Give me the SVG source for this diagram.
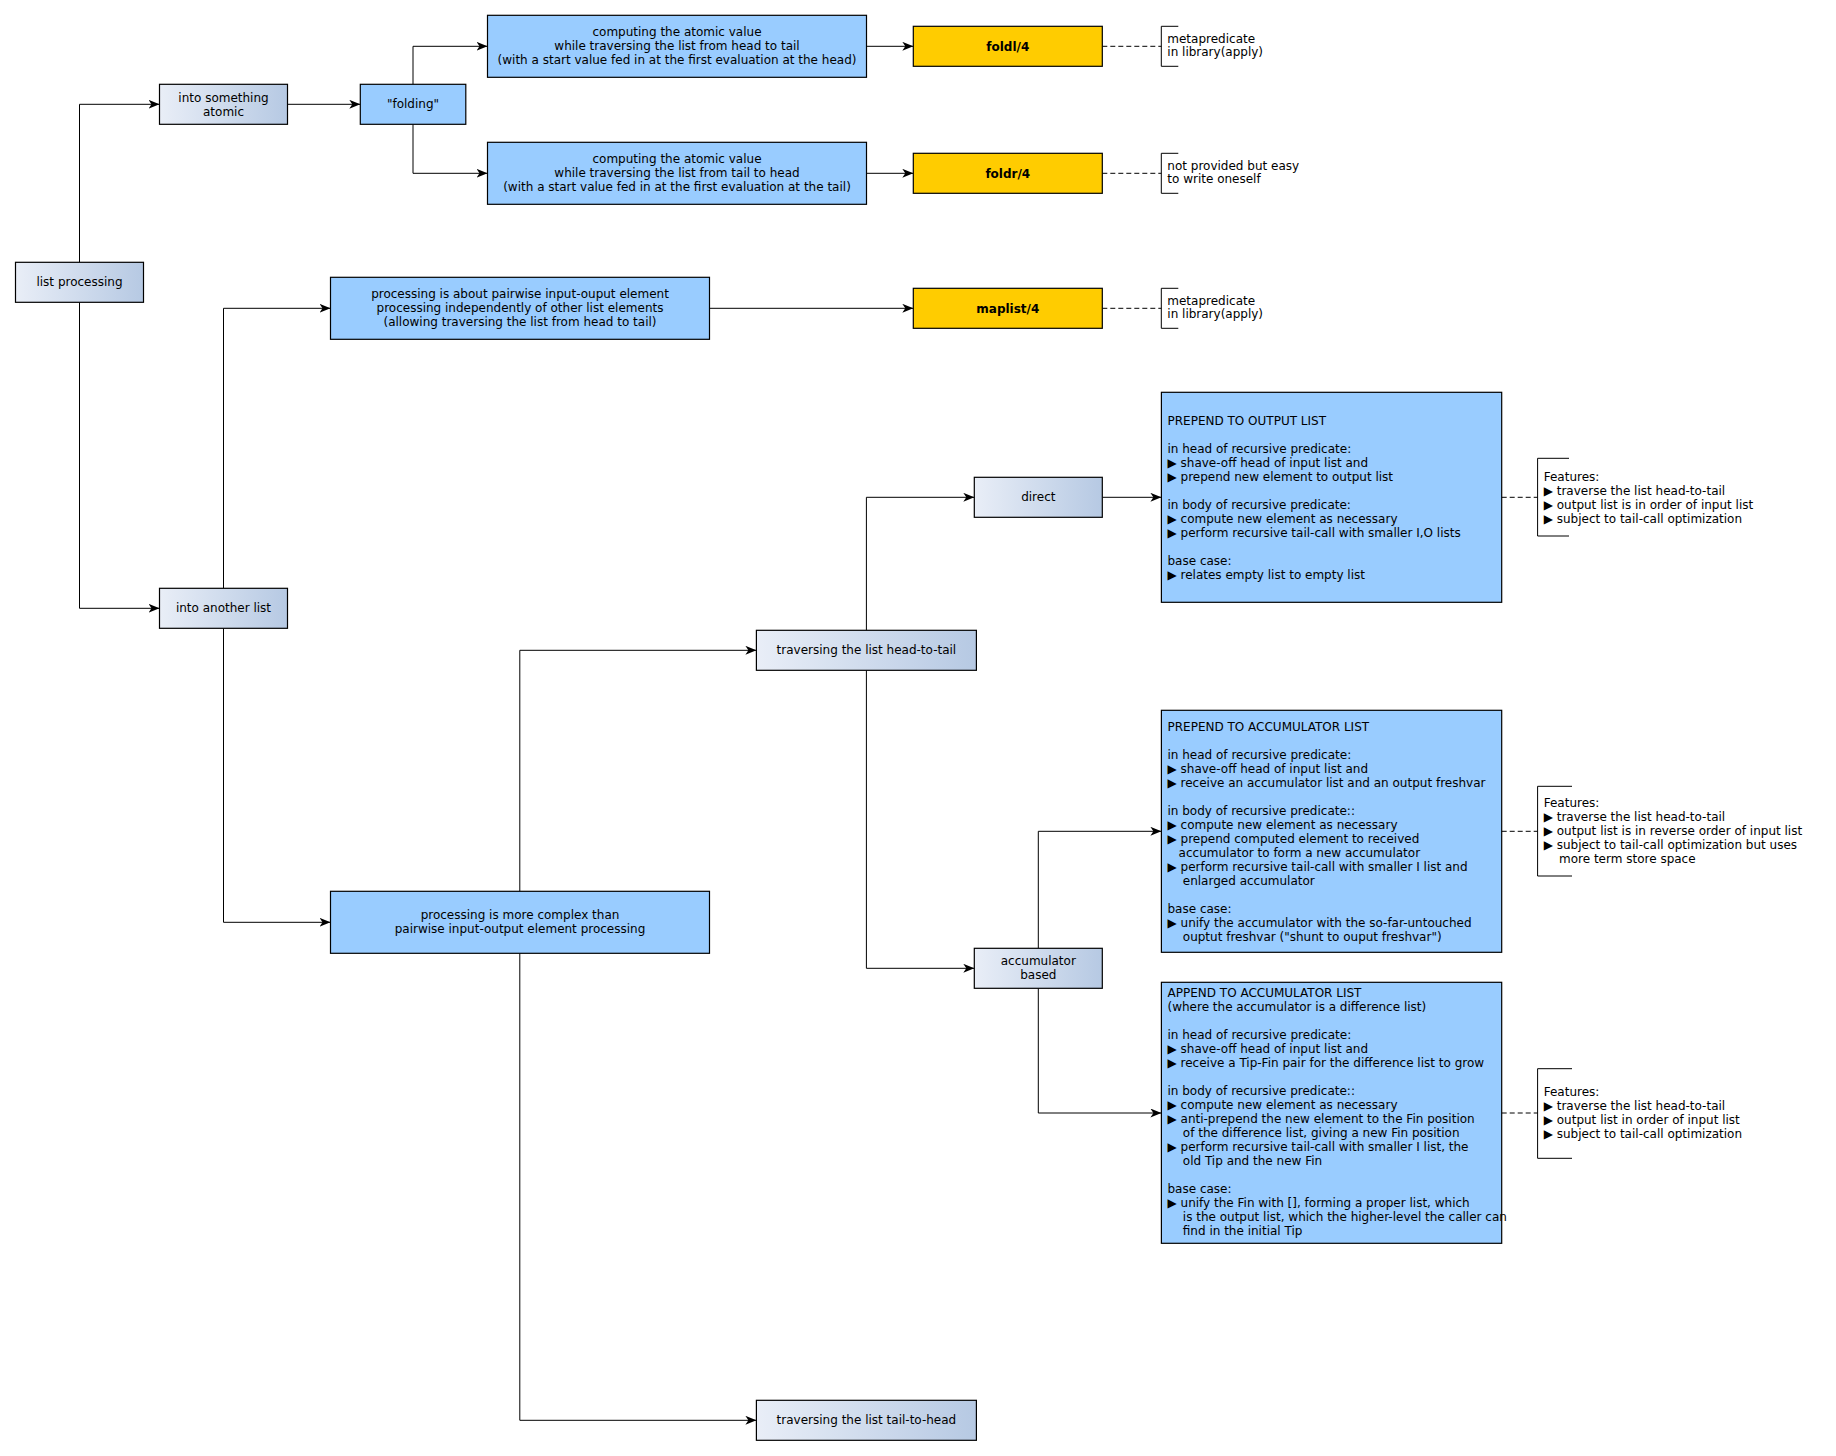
<svg xmlns="http://www.w3.org/2000/svg" width="1836" height="1456" viewBox="0 0 1836 1456">
<defs>
<linearGradient id="g" x1="0" y1="0" x2="1" y2="0">
<stop offset="0" stop-color="#e9eef7"/>
<stop offset="1" stop-color="#b6c9e3"/>
</linearGradient>
<marker id="arr" markerWidth="12" markerHeight="10" refX="11" refY="4.5" orient="auto" markerUnits="userSpaceOnUse">
<path d="M0,0 L11,4.5 L0,9 L3,4.5 Z" fill="#000"/>
</marker>
<style>
text{font-family:"DejaVu Sans","Noto Sans",sans-serif;font-size:12px;fill:#000}
.c{text-anchor:middle}
.b{font-weight:bold}
.grad{fill:url(#g);stroke:#000;stroke-width:1.2}
.blue{fill:#99ccff;stroke:#000;stroke-width:1.2}
.yel{fill:#ffcc00;stroke:#000;stroke-width:1.2}
.con{fill:none;stroke:#000;stroke-width:1;marker-end:url(#arr)}
.dash{fill:none;stroke:#000;stroke-width:1;stroke-dasharray:5 3}
.brk{fill:none;stroke:#000;stroke-width:1}
</style>
</defs>
<rect width="1836" height="1456" fill="#fff"/>

<g id="connectors">
<path class="con" d="M79.5,262.3 V104.3 H159.5"/>
<path class="con" d="M79.5,302.3 V608.3 H159.5"/>
<path class="con" d="M287.5,104.3 H360.3"/>
<path class="con" d="M413,84.3 V46.3 H487.5"/>
<path class="con" d="M413,124.3 V173.3 H487.5"/>
<path class="con" d="M866.5,46.3 H913.3"/>
<path class="con" d="M866.5,173.3 H913.3"/>
<path class="con" d="M223.5,588.3 V308.3 H330.5"/>
<path class="con" d="M223.5,628.3 V922.3 H330.5"/>
<path class="con" d="M709.5,308.3 H913.3"/>
<path class="con" d="M519.8,891.3 V650.3 H756.4"/>
<path class="con" d="M519.8,953.3 V1420.3 H756.4"/>
<path class="con" d="M866.4,630.3 V497.3 H974.3"/>
<path class="con" d="M866.4,670.3 V968.3 H974.3"/>
<path class="con" d="M1102.3,497.3 H1161.4"/>
<path class="con" d="M1038.3,948.3 V831.3 H1161.4"/>
<path class="con" d="M1038.3,988.3 V1113 H1161.4"/>
<path class="dash" d="M1102.3,46.3 H1161.3"/>
<path class="dash" d="M1102.3,173.3 H1161.3"/>
<path class="dash" d="M1102.3,308.3 H1161.3"/>
<path class="dash" d="M1501.7,497.3 H1537.6"/>
<path class="dash" d="M1501.7,831.3 H1537.6"/>
<path class="dash" d="M1501.7,1113 H1537.6"/>
</g>

<g id="n_list">
<rect class="grad" x="15.5" y="262.3" width="128" height="40"/>
<text class="c" x="79.5" y="286.3">list processing</text>
</g>
<g id="n_atomic">
<rect class="grad" x="159.5" y="84.3" width="128" height="40"/>
<text class="c" x="223.5" y="101.5">into something</text>
<text class="c" x="223.5" y="115.5">atomic</text>
</g>
<g id="n_folding">
<rect class="blue" x="360.3" y="84.3" width="105.5" height="40"/>
<text class="c" x="413" y="108.3">"folding"</text>
</g>
<g id="n_comp1">
<rect class="blue" x="487.5" y="15.3" width="379" height="62"/>
<text class="c" x="677" y="36.1">computing the atomic value</text>
<text class="c" x="677" y="50.1">while traversing the list from head to tail</text>
<text class="c" x="677" y="64.1">(with a start value fed in at the first evaluation at the head)</text>
</g>
<g id="n_comp2">
<rect class="blue" x="487.5" y="142.3" width="379" height="62"/>
<text class="c" x="677" y="163.1">computing the atomic value</text>
<text class="c" x="677" y="177.1">while traversing the list from tail to head</text>
<text class="c" x="677" y="191.1">(with a start value fed in at the first evaluation at the tail)</text>
</g>
<g id="n_foldl">
<rect class="yel" x="913.3" y="26.3" width="189" height="40"/>
<text class="c b" x="1007.8" y="50.5">foldl/4</text>
</g>
<g id="n_foldr">
<rect class="yel" x="913.3" y="153.3" width="189" height="40"/>
<text class="c b" x="1007.8" y="177.5">foldr/4</text>
</g>
<g id="n_maplist">
<rect class="yel" x="913.3" y="288.3" width="189" height="40"/>
<text class="c b" x="1007.8" y="312.5">maplist/4</text>
</g>
<g id="note_foldl">
<path class="brk" d="M1178.3,26.3 H1161.3 V66.3 H1178.3"/>
<text x="1167.3" y="42.8">metapredicate</text>
<text x="1167.3" y="56.4">in library(apply)</text>
</g>
<g id="note_foldr">
<path class="brk" d="M1178.3,153.3 H1161.3 V193.3 H1178.3"/>
<text x="1167.3" y="169.8">not provided but easy</text>
<text x="1167.3" y="183.4">to write oneself</text>
</g>
<g id="note_maplist">
<path class="brk" d="M1178.3,288.3 H1161.3 V328.3 H1178.3"/>
<text x="1167.3" y="304.8">metapredicate</text>
<text x="1167.3" y="318.4">in library(apply)</text>
</g>
<g id="n_pairwise">
<rect class="blue" x="330.5" y="277.3" width="379" height="62"/>
<text class="c" x="520" y="298.1">processing is about pairwise input-ouput element</text>
<text class="c" x="520" y="312.1">processing independently of other list elements</text>
<text class="c" x="520" y="326.1">(allowing traversing the list from head to tail)</text>
</g>
<g id="n_another">
<rect class="grad" x="159.5" y="588.3" width="128" height="40"/>
<text class="c" x="223.5" y="612.3">into another list</text>
</g>
<g id="n_complex">
<rect class="blue" x="330.5" y="891.3" width="379" height="62"/>
<text class="c" x="520" y="919.1">processing is more complex than</text>
<text class="c" x="520" y="933.1">pairwise input-output element processing</text>
</g>
<g id="n_headtotail">
<rect class="grad" x="756.4" y="630.3" width="220" height="40"/>
<text class="c" x="866.4" y="654.3">traversing the list head-to-tail</text>
</g>
<g id="n_tailtohead">
<rect class="grad" x="756.4" y="1400.3" width="220" height="40"/>
<text class="c" x="866.4" y="1424.3">traversing the list tail-to-head</text>
</g>
<g id="n_direct">
<rect class="grad" x="974.3" y="477.3" width="128" height="40"/>
<text class="c" x="1038.3" y="501.3">direct</text>
</g>
<g id="n_acc">
<rect class="grad" x="974.3" y="948.3" width="128" height="40"/>
<text class="c" x="1038.3" y="965.3">accumulator</text>
<text class="c" x="1038.3" y="979.3">based</text>
</g>
<g id="n_prepend_out">
<rect class="blue" x="1161.4" y="392.3" width="340.3" height="210"/>
<text x="1167.5" y="424.5">PREPEND TO OUTPUT LIST</text>
<text x="1167.5" y="452.5">in head of recursive predicate:</text>
<text x="1167.5" y="466.5">▶ shave-off head of input list and</text>
<text x="1167.5" y="480.5">▶ prepend new element to output list</text>
<text x="1167.5" y="508.5">in body of recursive predicate:</text>
<text x="1167.5" y="522.5">▶ compute new element as necessary</text>
<text x="1167.5" y="536.5">▶ perform recursive tail-call with smaller I,O lists</text>
<text x="1167.5" y="564.5">base case:</text>
<text x="1167.5" y="578.5">▶ relates empty list to empty list</text>
</g>
<g id="n_prepend_acc">
<rect class="blue" x="1161.4" y="710.3" width="340.3" height="242"/>
<text x="1167.5" y="730.5">PREPEND TO ACCUMULATOR LIST</text>
<text x="1167.5" y="758.5">in head of recursive predicate:</text>
<text x="1167.5" y="772.5">▶ shave-off head of input list and</text>
<text x="1167.5" y="786.5">▶ receive an accumulator list and an output freshvar</text>
<text x="1167.5" y="814.5">in body of recursive predicate::</text>
<text x="1167.5" y="828.5">▶ compute new element as necessary</text>
<text x="1167.5" y="842.5">▶ prepend computed element to received</text>
<text x="1178.6" y="856.5">accumulator to form a new accumulator</text>
<text x="1167.5" y="870.5">▶ perform recursive tail-call with smaller I list and</text>
<text x="1182.8" y="884.5">enlarged accumulator</text>
<text x="1167.5" y="912.5">base case:</text>
<text x="1167.5" y="926.5">▶ unify the accumulator with the so-far-untouched</text>
<text x="1182.8" y="940.5">ouptut freshvar ("shunt to ouput freshvar")</text>
</g>
<g id="n_append_acc">
<rect class="blue" x="1161.4" y="982.3" width="340.3" height="261"/>
<text x="1167.5" y="997.3">APPEND TO ACCUMULATOR LIST</text>
<text x="1167.5" y="1011.3">(where the accumulator is a difference list)</text>
<text x="1167.5" y="1039.3">in head of recursive predicate:</text>
<text x="1167.5" y="1053.3">▶ shave-off head of input list and</text>
<text x="1167.5" y="1067.3">▶ receive a Tip-Fin pair for the difference list to grow</text>
<text x="1167.5" y="1095.3">in body of recursive predicate::</text>
<text x="1167.5" y="1109.3">▶ compute new element as necessary</text>
<text x="1167.5" y="1123.3">▶ anti-prepend the new element to the Fin position</text>
<text x="1182.8" y="1137.3">of the difference list, giving a new Fin position</text>
<text x="1167.5" y="1151.3">▶ perform recursive tail-call with smaller I list, the</text>
<text x="1182.8" y="1165.3">old Tip and the new Fin</text>
<text x="1167.5" y="1193.3">base case:</text>
<text x="1167.5" y="1207.3">▶ unify the Fin with [], forming a proper list, which</text>
<text x="1182.8" y="1221.3">is the output list, which the higher-level the caller can</text>
<text x="1182.8" y="1235.3">find in the initial Tip</text>
</g>
<g id="features_1">
<path class="brk" d="M1569,458.3 H1537.6 V536 H1569"/>
<text x="1543.7" y="481.1">Features:</text>
<text x="1543.7" y="495.1">▶ traverse the list head-to-tail</text>
<text x="1543.7" y="509.1">▶ output list is in order of input list</text>
<text x="1543.7" y="523.1">▶ subject to tail-call optimization</text>
</g>
<g id="features_2">
<path class="brk" d="M1572,786.3 H1537.6 V876 H1572"/>
<text x="1543.7" y="806.5">Features:</text>
<text x="1543.7" y="820.5">▶ traverse the list head-to-tail</text>
<text x="1543.7" y="834.5">▶ output list is in reverse order of input list</text>
<text x="1543.7" y="848.5">▶ subject to tail-call optimization but uses</text>
<text x="1559" y="862.5">more term store space</text>
</g>
<g id="features_3">
<path class="brk" d="M1572,1068.7 H1537.6 V1158.3 H1572"/>
<text x="1543.7" y="1095.5">Features:</text>
<text x="1543.7" y="1109.5">▶ traverse the list head-to-tail</text>
<text x="1543.7" y="1123.5">▶ output list in order of input list</text>
<text x="1543.7" y="1137.5">▶ subject to tail-call optimization</text>
</g>
</svg>
